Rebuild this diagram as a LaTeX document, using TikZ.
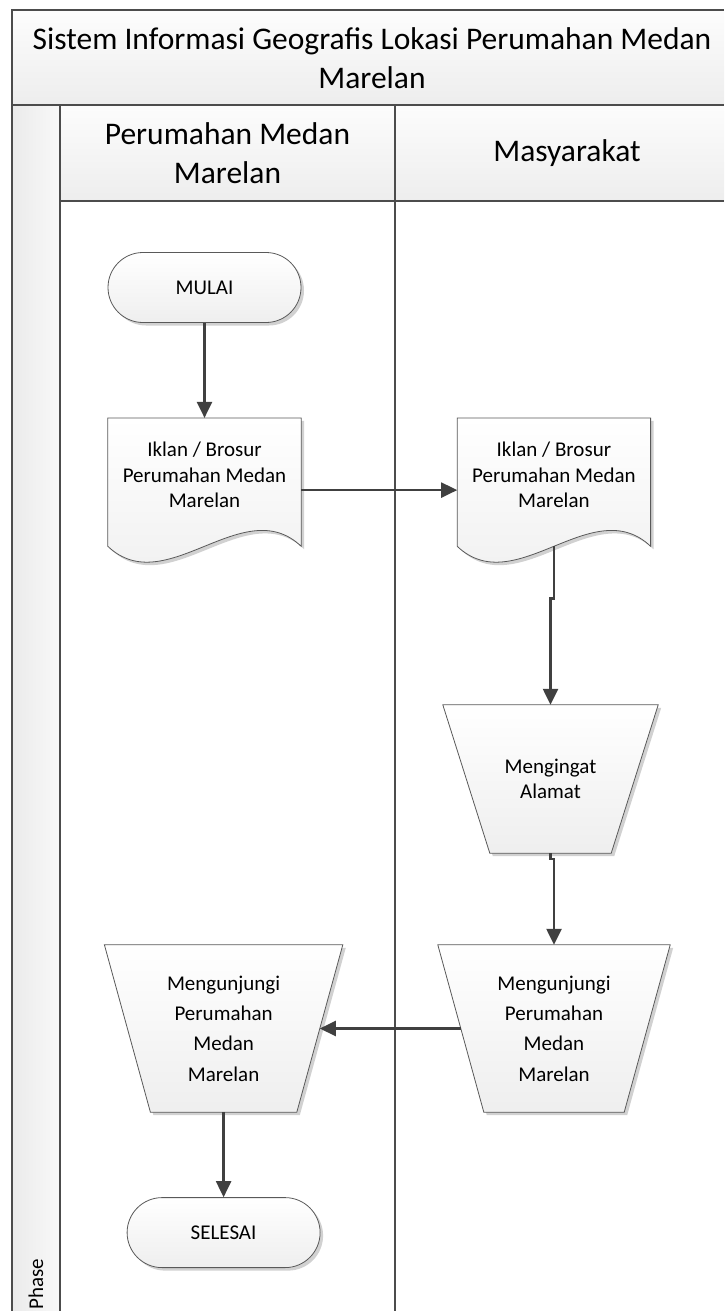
\documentclass[tikz,border=0pt]{standalone}
\usepackage{fontspec}
\setmainfont{Carlito}
\usetikzlibrary{arrows.meta,positioning,calc,shadows}
\pgfdeclarelayer{bg}
\pgfsetlayers{bg,main}

% document symbol with wavy bottom, drawn round a named node
\newcommand{\dokumen}[1]{%
  \draw[shapeline] (#1.north west) -- (#1.north east) -- ([yshift=-14pt]#1.south east)
    .. controls +(-58,-55) and +(58,55) .. ([yshift=-14pt]#1.south west) -- cycle;}
% manual operation (trapezium), #2 = inset of the bottom corners
\newcommand{\operasi}[2]{%
  \draw[shapeline] (#1.north west) -- (#1.north east) -- ([xshift=-#2]#1.south east)
    -- ([xshift=#2]#1.south west) -- cycle;}

\begin{document}
\begin{tikzpicture}[
    x=1pt, y=-1pt,
    font=\fontsize{21}{25.5}\selectfont,
    pool/.style={draw=black!70, line width=1.6pt},
    shapeline/.style={draw=black!65, line width=0.8pt, top color=white, bottom color=gray!13,
        drop shadow={shadow xshift=3pt, shadow yshift=-3pt, fill=black, opacity=.18}},
    terminal/.style={shapeline, rectangle, rounded corners=35pt, minimum width=193pt, minimum height=70pt},
    docbox/.style={rectangle, minimum width=193pt, minimum height=114pt, inner sep=0pt, align=center},
    opbox/.style={rectangle, inner sep=0pt, align=center},
    arrow/.style={-{Triangle[length=16pt,width=15pt]}, line width=2.4pt, draw=black!75},
    header/.style={font=\fontsize{31.5}{38.5}\selectfont, align=center}
]
    \useasboundingbox (0,0) rectangle (724,1311);

    % Swimlane pool
    \begin{pgfonlayer}{bg}
        \shade[left color=gray!16, right color=gray!5] (12,105) rectangle (60,1311);
        \shade[top color=gray!2, bottom color=gray!14] (12,10) rectangle (724,105);
        \shade[top color=gray!2, bottom color=gray!14] (60,105) rectangle (724,201);
        \draw[pool] (12,1311) -- (12,10) -- (724,10);
        \draw[pool] (12,105) -- (724,105);
        \draw[pool] (60,105) -- (60,1311);
        \draw[pool] (60,201) -- (724,201);
        \draw[pool] (395,105) -- (395,1311);
    \end{pgfonlayer}

    \node[header] (judul) at (372,58) {Sistem Informasi Geografis Lokasi Perumahan Medan\\Marelan};
    \node[header] (lane1) at (227.5,153) {Perumahan Medan\\Marelan};
    \node[header] (lane2) at (567,153) {Masyarakat};
    \node[rotate=90, anchor=west, inner sep=0pt] (fase) at (36,1310) {Phase};

    % Flow
    \node[terminal] (mulai) at (204.5,287.5) {MULAI};
    \node[docbox, below=95pt of mulai] (brosur1) {Iklan / Brosur\\Perumahan Medan\\Marelan};
    \node[docbox, right=156pt of brosur1] (brosur2) {Iklan / Brosur\\Perumahan Medan\\Marelan};
    \node[opbox, minimum width=215pt, minimum height=148pt] (ingat) at (550.5,779) {Mengingat\\Alamat};
    \node[opbox, font=\fontsize{21}{30.3}\selectfont, minimum width=232pt, minimum height=167pt]
        (kunjung2) at (554,1028.5) {Mengunjungi\\Perumahan\\Medan\\Marelan};
    \node[opbox, font=\fontsize{21}{30.3}\selectfont, minimum width=238pt, minimum height=167pt,
        left=95pt of kunjung2] (kunjung1) {Mengunjungi\\Perumahan\\Medan\\Marelan};
    \node[terminal, below=85pt of kunjung1] (selesai) {SELESAI};

    \begin{pgfonlayer}{bg}
        \dokumen{brosur1}
        \dokumen{brosur2}
        \operasi{ingat}{47pt}
        \operasi{kunjung2}{46pt}
        \operasi{kunjung1}{46pt}
    \end{pgfonlayer}

    % Connectors
    \draw[arrow] (mulai) -- (brosur1);
    \draw[arrow] ([yshift=-15pt]brosur1.east) -- ([yshift=-15pt]brosur2.west);
    \draw[arrow] ([yshift=-14pt]brosur2.south) -- ++(0,52) -| (ingat.north);
    \draw[arrow] (ingat.south) -- ++(0,6) -| (kunjung2.north);
    \draw[arrow] ([xshift=23pt]kunjung2.west) -- ([xshift=-23pt]kunjung1.east);
    \draw[arrow] (kunjung1) -- (selesai);
\end{tikzpicture}
\end{document}
